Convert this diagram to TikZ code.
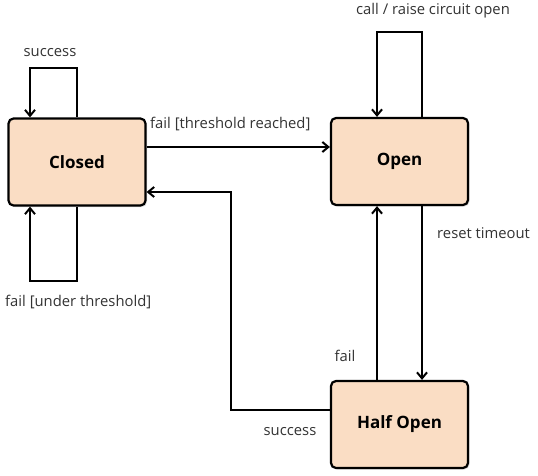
\documentclass[tikz,border=0pt]{standalone}
\usepackage{fontspec}
\setmainfont{Open Sans}
\usetikzlibrary{arrows.meta,shadows,calc}
\begin{document}
\begin{tikzpicture}[x=1pt,y=-1pt,
  state/.style={draw=black,line width=2.2pt,rounded corners=5pt,fill=statefill,
    minimum width=137pt,minimum height=87pt,inner sep=0pt,
    font=\fontsize{17}{19}\selectfont\bfseries,
    drop shadow={shadow xshift=1.5pt,shadow yshift=-1.5pt,fill=black!25}},
  conn/.style={line width=2pt,-{Straight Barb[length=6pt,width=10pt,line width=2pt]}},
  lbl/.style={font=\fontsize{14.8}{16}\selectfont,text=black!80,inner sep=0pt}]
\definecolor{statefill}{HTML}{FADDC4}
\useasboundingbox (0,0) rectangle (538,476);
\fill[white] (0,0) rectangle (538,476);
\node[state] (closed) at (77,162) {Closed};
\node[state] (open) at (399.5,161.5) {Open};
\node[state] (half) at (399.5,424.5) {Half Open};
% closed top loop
\coordinate (ct1) at (77,68);
\coordinate (ct2) at (30,68);
\draw[conn] (closed.north -| ct1) -- (ct1) -- (ct2) -- (closed.north -| ct2);
\node[lbl] (lsucc1) at (50,53) {success};
% closed bottom loop
\coordinate (cb1) at (77,281);
\coordinate (cb2) at (30,281);
\draw[conn] (closed.south -| cb1) -- (cb1) -- (cb2) -- (closed.south -| cb2);
\node[lbl,anchor=west] (lfailu) at (5,302) {fail [under threshold]};
% closed -> open
\coordinate (co) at (0,147);
\draw[conn] (closed.east |- co) -- (open.west |- co);
\node[lbl,anchor=west] (lfailt) at (150,124) {fail [threshold reached]};
% open top loop
\coordinate (ot1) at (422,32);
\coordinate (ot2) at (377,32);
\draw[conn] (open.north -| ot1) -- (ot1) -- (ot2) -- (open.north -| ot2);
\node[lbl] (lcall) at (433,11) {call / raise circuit open};
% open -> half
\coordinate (oh) at (422,0);
\draw[conn] (open.south -| oh) -- (half.north -| oh);
\node[lbl,anchor=west] (lreset) at (437,233) {reset timeout};
% half -> open fail
\coordinate (ho) at (377,0);
\draw[conn] (half.north -| ho) -- (open.south -| ho);
\node[lbl] (lfail) at (345,356) {fail};
% half -> closed success
\coordinate (hs1) at (231,410);
\coordinate (hs2) at (231,192);
\draw[conn] (half.west |- hs1) -- (hs1) -- (hs2) -- (closed.east |- hs2);
\node[lbl] (lsucc2) at (290,432) {success};
\end{tikzpicture}
\end{document}
